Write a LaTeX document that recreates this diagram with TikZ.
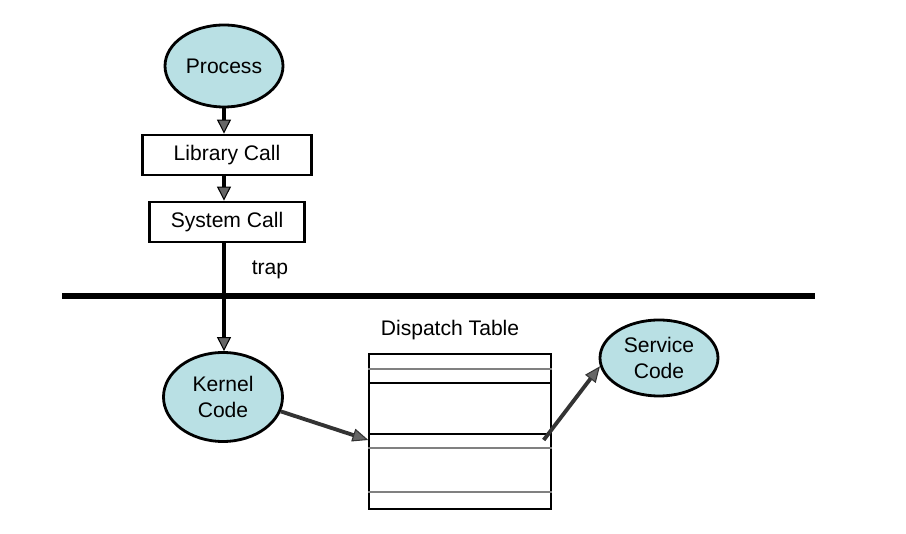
\documentclass[tikz,border=0pt]{standalone}
\usepackage{fontspec}
\setmainfont{Liberation Sans}
\usepackage{tikz}
\usetikzlibrary{positioning, shapes.geometric, arrows.meta}
\definecolor{procblue}{RGB}{185,224,228}
\tikzset{
    proc/.style={ellipse, draw, line width=1.6pt, fill=procblue, inner sep=0pt, align=center, font=\fontsize{12}{15}\selectfont},
    callbox/.style={rectangle, draw, line width=1.6pt, minimum height=8mm, inner sep=0pt, font=\fontsize{12}{14}\selectfont},
    flow/.style={line width=2.3pt, -{Triangle[length=8pt, width=8pt, fill=black!60, line width=0.6pt]}},
    lookup/.style={line width=2.2pt, draw=gray!40!black, -{Triangle[length=9pt, width=7.5pt, fill=black!60, line width=0.6pt]}},
    lbl/.style={font=\fontsize{12}{14}\selectfont},
    node distance=0.15
}

\begin{document}
\begin{tikzpicture}
			\useasboundingbox (0,0) rectangle (18.12,10.68);
			\node[proc, minimum width=2.36cm, minimum height=1.64cm] (proc) at (4.48,9.36) {Process};
			\node[callbox, minimum width=3.38cm] (lib) at (4.54,7.58) {Library Call};
			\node[callbox, minimum width=3.1cm] (sys) at (4.54,6.24) {System Call};
			\node[proc, minimum width=2.38cm, minimum height=1.78cm] (kern) at (4.46,2.74) {Kernel\\Code};
			\node[proc, minimum width=2.36cm, minimum height=1.52cm] (srv) at (13.18,3.52) {Service\\Code};
			\node[draw, line width=0.8pt, minimum width=3.64cm, minimum height=3.1cm] (tbl) at (9.2,2.05) {};
			\node[lbl, above = of tbl, xshift=-0.2cm] (tbltitle) {Dispatch Table};
			\node[lbl] (trap) at (5.4,5.28) {trap};

			% user / kernel boundary
			\coordinate (bl) at (1.24,4.76);
			\coordinate (br) at (16.3,4.76);
			\draw[line width=3.4pt] (bl) -- (br);

			% table rows
			\foreach \y/\c in {3.3/gray, 3.02/black, 2.0/black, 1.72/gray, 0.84/gray}
				\draw[\c, line width=0.6pt] (tbl.west |- 0,\y) -- (tbl.east |- 0,\y);
			\coordinate (entry) at (9.2,1.88);

			\draw[flow] (proc.south) -- (proc.south |- lib.north);
			\draw[flow] (proc.south |- lib.south) -- (proc.south |- sys.north);
			\draw[flow] (proc.south |- sys.south) -- (proc.south |- kern.north);
			\draw[lookup] (kern.-14) -- (tbl.west |- entry);
			\draw[lookup] ([xshift=-0.16cm]tbl.east |- entry) -- (srv.188);
		\end{tikzpicture}
\end{document}
